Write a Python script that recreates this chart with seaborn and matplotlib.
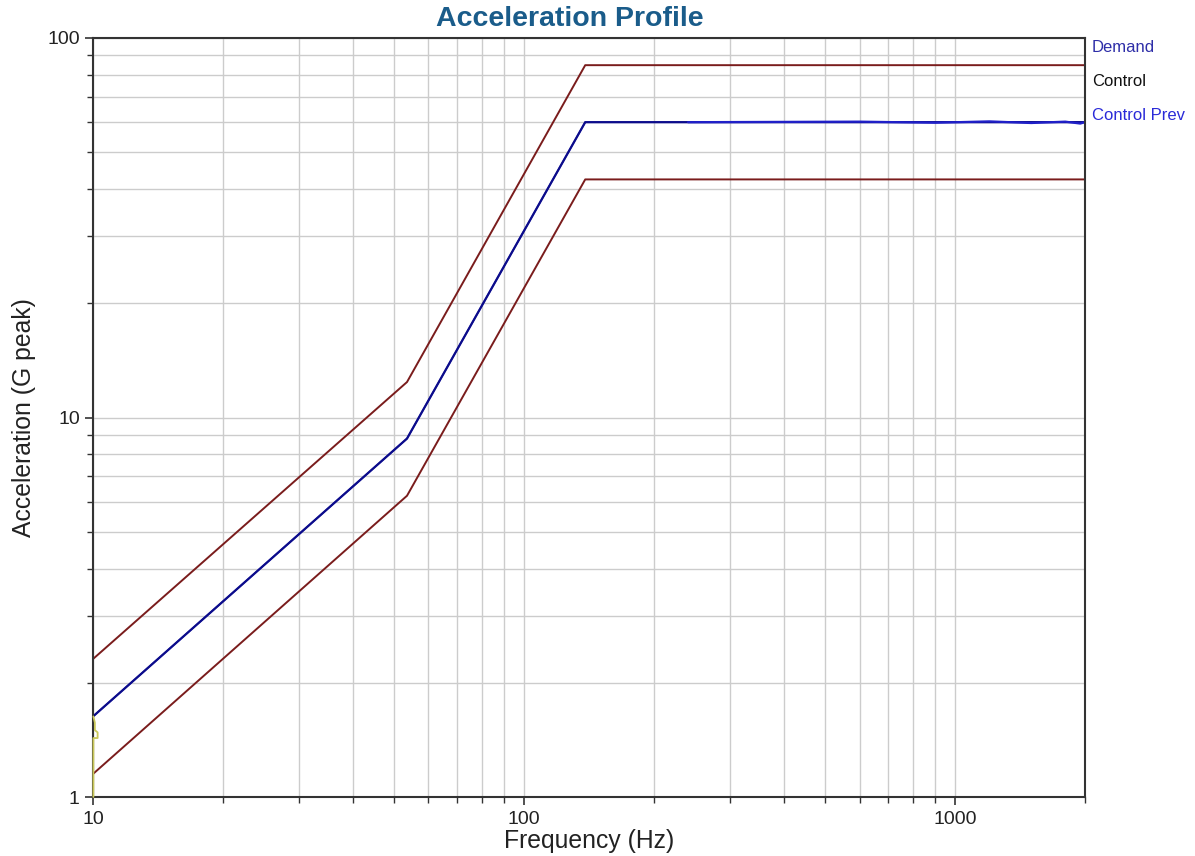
import numpy as np
import pandas as pd
import matplotlib
matplotlib.use("Agg")
import matplotlib.pyplot as plt
import seaborn as sns
from matplotlib.ticker import LogLocator, NullFormatter, FixedLocator, FixedFormatter

# Profile breakpoints (Hz, G peak)
demand_freq = [10, 53.5, 138.6, 2000]
demand_acc = [1.63, 8.8, 60.0, 60.0]

upper_freq = [10, 53.5, 138.6, 2000]
upper_acc = [2.31, 12.4, 84.8, 84.8]

lower_freq = [10, 53.5, 138.6, 2000]
lower_acc = [1.15, 6.22, 42.4, 42.4]

control_freq = [10, 53.5, 138.6, 240, 2000]
control_acc = [1.63, 8.8, 60.0, 60.0, 60.0]

prev_freq = [240, 600, 900, 1200, 1500, 1800, 1950, 2000]
prev_acc = [60.0, 60.2, 59.8, 60.3, 59.7, 60.2, 59.5, 60.0]

start_freq = [10.02, 10.1, 10.1, 10.25, 10.25, 10.02, 10.02]
start_acc = [1.63, 1.57, 1.50, 1.48, 1.43, 1.43, 1.0]

legend_labels = ["Demand", "Control", "Control Prev"]
legend_colors = ["#2e2ea8", "#111111", "#2a2ad8"]

x_ticks = [10, 100, 1000]
y_ticks = [1, 10, 100]

sns.set_style("white")
plt.rcParams['font.family'] = ['Liberation Sans', 'DejaVu Sans']

fig = plt.figure(figsize=(11.95, 8.56), dpi=100)
ax = fig.add_axes([93 / 1195, 1 - 797 / 856, (1085 - 93) / 1195, (797 - 38) / 856])


def frame(x, y, name):
    return pd.DataFrame({"freq": x, "acc": y, "series": name})


tol_color = "#7a1c1c"
sns.lineplot(data=frame(upper_freq, upper_acc, "upper"), x="freq", y="acc",
             color=tol_color, lw=1.4, sort=False, estimator=None, ax=ax)
sns.lineplot(data=frame(lower_freq, lower_acc, "lower"), x="freq", y="acc",
             color=tol_color, lw=1.4, sort=False, estimator=None, ax=ax)
sns.lineplot(data=frame(demand_freq, demand_acc, "demand"), x="freq", y="acc",
             color="#2a2ad0", lw=1.2, sort=False, estimator=None, ax=ax)
sns.lineplot(data=frame(control_freq, control_acc, "control"), x="freq", y="acc",
             color="#0c0c8a", lw=1.6, sort=False, estimator=None, ax=ax)
sns.lineplot(data=frame(prev_freq, prev_acc, "prev"), x="freq", y="acc",
             color="#2020c8", lw=1.6, sort=False, estimator=None, ax=ax)
sns.lineplot(data=frame(start_freq, start_acc, "start"), x="freq", y="acc",
             color="#c9c85a", lw=1.3, sort=False, estimator=None, ax=ax)
ax.lines[-1].set_zorder(5)
ax.lines[-1].set_clip_on(False)

ax.set_xscale("log")
ax.set_yscale("log")
ax.set_xlim(10, 2000)
ax.set_ylim(1, 100)

ax.xaxis.set_major_locator(FixedLocator(x_ticks))
ax.xaxis.set_major_formatter(FixedFormatter([str(v) for v in x_ticks]))
ax.yaxis.set_major_locator(FixedLocator(y_ticks))
ax.yaxis.set_major_formatter(FixedFormatter([str(v) for v in y_ticks]))
ax.xaxis.set_minor_locator(LogLocator(base=10, subs=np.arange(2, 10)))
ax.yaxis.set_minor_locator(LogLocator(base=10, subs=np.arange(2, 10)))
ax.xaxis.set_minor_formatter(NullFormatter())
ax.yaxis.set_minor_formatter(NullFormatter())

ax.grid(True, which="both", color="#cccccc", lw=1.0)
ax.set_axisbelow(True)
for side in ["left", "right", "top", "bottom"]:
    ax.spines[side].set_visible(True)
    ax.spines[side].set_color("#333333")
    ax.spines[side].set_linewidth(1.5)

ax.tick_params(axis="x", which="major", pad=4)
ax.tick_params(which="major", direction="out", length=6, width=1.2,
               color="#333333", labelsize=14, labelcolor="#222222",
               left=True, bottom=True)
ax.tick_params(which="minor", direction="out", length=4, width=1.0,
               color="#333333", left=True, bottom=True)

ax.set_xlabel("Frequency (Hz)", fontsize=17.8, color="#222222", labelpad=1)
ax.set_ylabel("Acceleration (G peak)", fontsize=17.8, color="#222222", labelpad=8)

fig.text(570 / 1195, 1 - 19 / 856, "Acceleration Profile", ha="center", va="center",
         fontsize=20.5, fontweight="bold", color="#1a5c8a")

for i, (lab, col) in enumerate(zip(legend_labels, legend_colors)):
    fig.text(1092 / 1195, 1 - (48 + 33.5 * i) / 856, lab, ha="left", va="center",
             fontsize=12, color=col)

fig.savefig("out.png", dpi=100)
